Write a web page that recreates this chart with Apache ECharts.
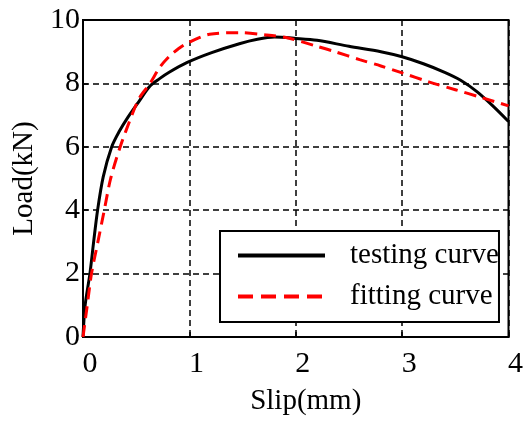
<!DOCTYPE html>
<html><head><meta charset="utf-8">
<script src="https://cdn.jsdelivr.net/npm/echarts@6/dist/echarts.min.js"></script>
<style>html,body{margin:0;padding:0;background:#fff}#c{width:526px;height:423px}</style>
</head><body><div id="c"></div>
<script>
var xTicks = [0, 1, 2, 3, 4];
var yTicks = [0, 2, 4, 6, 8, 10];
var testingSlip = [0,0.02,0.065,0.1,0.137,0.19,0.27,0.34,0.42,0.53,0.63,0.72,0.81,0.98,1.21,1.47,1.64,1.8,2.0,2.2,2.5,2.8,3.0,3.2,3.4,3.55,3.7,3.85,4.0];
var testingLoad = [0,1.0,2,3,4,5.05,6,6.48,6.92,7.45,7.92,8.15,8.35,8.66,8.97,9.25,9.39,9.46,9.42,9.36,9.17,9.0,8.84,8.62,8.35,8.1,7.75,7.3,6.8];
var fittingSlip = [0,0.04,0.08,0.14,0.2,0.26,0.35,0.46,0.53,0.63,0.72,0.81,0.9,0.98,1.19,1.47,1.72,1.93,2.19,2.37,2.6,2.8,3.0,3.25,3.5,3.75,4.0];
var fittingLoad = [0,1,2,3,4,5,6,7,7.54,8,8.5,8.85,9.1,9.27,9.55,9.6,9.53,9.43,9.18,9.0,8.75,8.55,8.33,8.05,7.8,7.55,7.29];
var seriesNames = ['testing curve', 'fitting curve'];

function pairs(xs, ys){ return xs.map(function(x,i){ return [x, ys[i]]; }); }
var font = "'Liberation Serif', 'Times New Roman', Times, serif";
var chart = echarts.init(document.getElementById('c'));
chart.setOption({
  animation: false,
  backgroundColor: '#fff',
  grid: {left: 83, top: 20, right: 15, bottom: 86, show: true, borderColor: '#000', borderWidth: 2},
  xAxis: {
    type: 'value', min: xTicks[0], max: xTicks[xTicks.length-1], interval: 1,
    name: 'Slip(mm)', nameLocation: 'middle', nameGap: 50,
    nameTextStyle: {fontFamily: font, fontSize: 29, color: '#000', padding: [0, 0, 0, 20]},
    axisLine: {lineStyle: {color: '#000', width: 2}},
    axisTick: {inside: true, length: 5, lineStyle: {color: '#000', width: 1.5}},
    axisLabel: {fontFamily: font, fontSize: 30, color: '#000', margin: 12, padding: [0, 0, 0, 14]},
    splitLine: {show: true, lineStyle: {color: '#000', type: [6, 4], width: 1.5}}
  },
  yAxis: {
    type: 'value', min: yTicks[0], max: yTicks[yTicks.length-1], interval: 2,
    name: 'Load(kN)', nameLocation: 'middle', nameGap: 38,
    nameTextStyle: {fontFamily: font, fontSize: 29, color: '#000'},
    axisLine: {lineStyle: {color: '#000', width: 2}},
    axisTick: {inside: true, length: 5, lineStyle: {color: '#000', width: 1.5}},
    axisLabel: {fontFamily: font, fontSize: 30, color: '#000', margin: 3},
    splitLine: {show: true, lineStyle: {color: '#000', type: [6, 4], width: 1.5}}
  },
  legend: {
    left: 220, top: 231, orient: 'vertical',
    backgroundColor: '#fff', borderColor: '#000', borderWidth: 2,
    padding: [10, 0, 11, 16], itemGap: 12, itemWidth: 87, itemHeight: 14,
    textStyle: {fontFamily: font, fontSize: 29, color: '#000', padding: [0, 0, 0, 20]},
    data: [
      {name: seriesNames[0], itemStyle: {opacity: 0}, lineStyle: {width: 4}},
      {name: seriesNames[1], itemStyle: {opacity: 0}, lineStyle: {width: 4, type: [15, 8]}}
    ]
  },
  series: [
    {name: seriesNames[0], type: 'line', data: pairs(testingSlip, testingLoad), smooth: 0.3, showSymbol: false, symbol: 'none',
     lineStyle: {color: '#000', width: 3}, itemStyle: {color: '#000'}, z: 3},
    {name: seriesNames[1], type: 'line', data: pairs(fittingSlip, fittingLoad), smooth: 0.3, showSymbol: false, symbol: 'none',
     lineStyle: {color: '#ff0000', width: 3, type: [12, 7]}, itemStyle: {color: '#ff0000'}, z: 4}
  ]
});
</script></body></html>
